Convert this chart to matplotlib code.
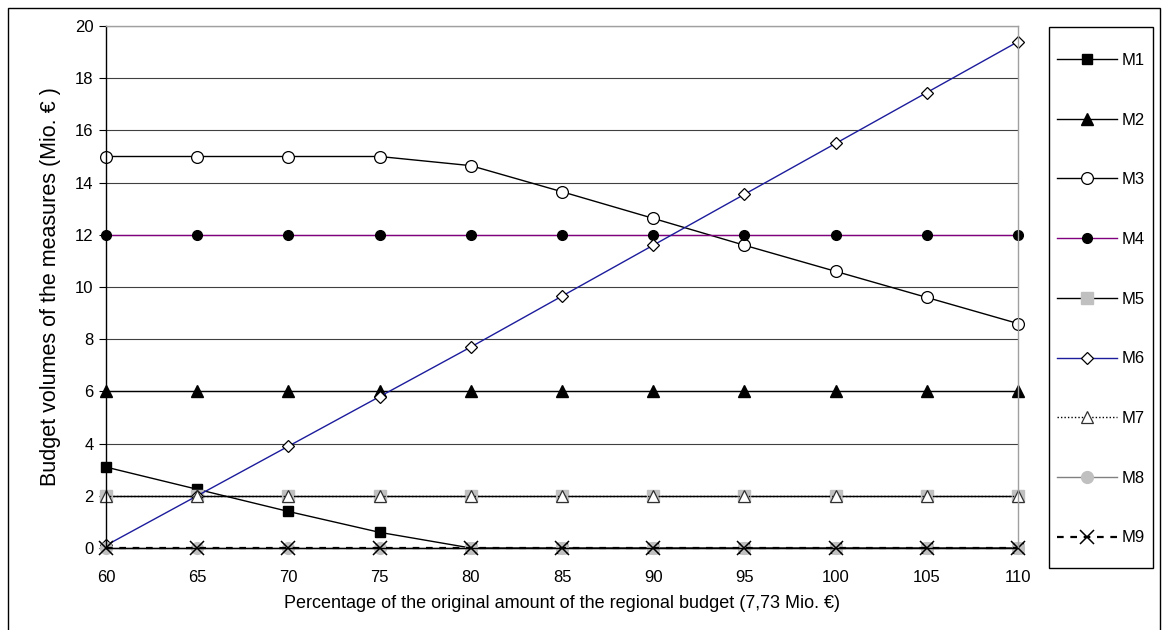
import matplotlib
matplotlib.use("Agg")
import matplotlib.pyplot as plt
from matplotlib.patches import Rectangle

# percentage of the original regional budget
percent = [60, 65, 70, 75, 80, 85, 90, 95, 100, 105, 110]

m1 = [3.1, 2.25, 1.4, 0.6, 0, 0, 0, 0, 0, 0, 0]
m2 = [6, 6, 6, 6, 6, 6, 6, 6, 6, 6, 6]
m3 = [15, 15, 15, 15, 14.65, 13.65, 12.63, 11.6, 10.6, 9.6, 8.6]
m4 = [12, 12, 12, 12, 12, 12, 12, 12, 12, 12, 12]
m5 = [2, 2, 2, 2, 2, 2, 2, 2, 2, 2, 2]
m6 = [0.1, 2.0, 3.9, 5.8, 7.7, 9.65, 11.6, 13.55, 15.5, 17.45, 19.4]
m7 = [2, 2, 2, 2, 2, 2, 2, 2, 2, 2, 2]
m8 = [0, 0, 0, 0, 0, 0, 0, 0, 0, 0, 0]
m9 = [0, 0, 0, 0, 0, 0, 0, 0, 0, 0, 0]

y_ticks = list(range(0, 21, 2))

STYLES = {
    "M1": dict(color="black", lw=1.0, ls="-", marker="s", ms=6.5, mfc="black", mec="black"),
    "M2": dict(color="black", lw=1.0, ls="-", marker="^", ms=9, mfc="black", mec="black"),
    "M3": dict(color="black", lw=1.0, ls="-", marker="o", ms=8.5, mfc="white", mec="black", mew=0.9),
    "M4": dict(color="#800080", lw=1.0, ls="-", marker="o", ms=7, mfc="black", mec="black"),
    "M5": dict(color="black", lw=1.0, ls="-", marker="s", ms=8.5, mfc="#c0c0c0", mec="#c0c0c0"),
    "M6": dict(color="#1c1c9c", lw=1.0, ls="-", marker="D", ms=6.5, mfc="white", mec="black", mew=0.9),
    "M7": dict(color="black", lw=1.0, ls=(0, (1, 1.5)), marker="^", ms=9, mfc="white", mec="#303030", mew=0.9),
    "M8": dict(color="#808080", lw=1.0, ls="-", marker="o", ms=8.5, mfc="#c0c0c0", mec="#c0c0c0"),
    "M9": dict(color="black", lw=1.6, ls=(0, (3, 3)), marker="x", ms=10, mfc="black", mec="black", mew=1.1),
}

series = {"M1": m1, "M2": m2, "M3": m3, "M4": m4, "M5": m5,
          "M6": m6, "M7": m7, "M8": m8, "M9": m9}

plt.rcParams["font.family"] = ["Liberation Sans", "DejaVu Sans"]

fig = plt.figure(figsize=(11.62, 6.3), dpi=100)
ax = fig.add_axes([106 / 1162, 1 - 548 / 630, (1018 - 106) / 1162, (548 - 26) / 630])

for name, vals in series.items():
    ax.plot(percent, vals, label=name, clip_on=False, **STYLES[name])

ax.set_xlim(60, 110)
ax.set_ylim(0, 20)
ax.set_xticks(percent)
ax.set_yticks(y_ticks)
ax.yaxis.grid(True, color="#404040", lw=0.8)
ax.set_axisbelow(True)
ax.tick_params(axis="x", length=0, pad=16, labelsize=12)
ax.tick_params(axis="y", length=5, width=0.8, pad=4, labelsize=12)

ax.spines["left"].set_color("black")
ax.spines["bottom"].set_color("black")
ax.spines["top"].set_color("#a0a0a0")
ax.spines["right"].set_color("#a0a0a0")
for s in ax.spines.values():
    s.set_linewidth(1.0)

ax.set_xlabel("Percentage of the original amount of the regional budget (7,73 Mio. \u20ac)",
              fontsize=13, labelpad=7)
ax.set_ylabel("Budget volumes of the measures (Mio. \u20ac )", fontsize=15.5, labelpad=10)

# legend frame drawn separately, entries placed inside it
fig.patches.append(Rectangle((1049 / 1162, 1 - 568 / 630), 104 / 1162, 541 / 630,
                             transform=fig.transFigure, fill=False,
                             edgecolor="black", lw=1.0))
leg = fig.legend(loc="upper left", bbox_to_anchor=(1057 / 1162, 1 - 53 / 630),
                 bbox_transform=fig.transFigure, borderaxespad=0, borderpad=0,
                 fontsize=12, handlelength=3.6, handletextpad=0.3,
                 labelspacing=2.68, frameon=False)

# outer chart frame
fig.patches.append(Rectangle((8 / 1162, -0.05), 1152 / 1162, 1.05 - 8 / 630,
                             transform=fig.transFigure, fill=False,
                             edgecolor="black", lw=1.0))

fig.savefig("out.png", dpi=100)
